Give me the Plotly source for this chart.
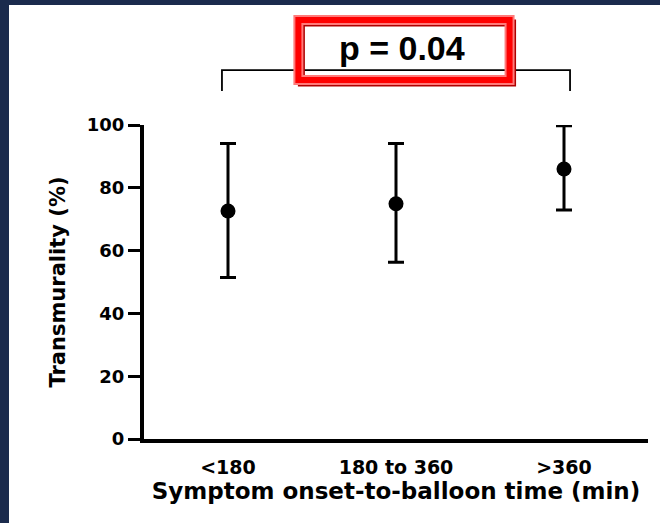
import plotly.graph_objects as go

# Transmurality by symptom onset-to-balloon time group (mean with spread)
categories = ["<180", "180 to 360", ">360"]
means = [72.6, 74.9, 86.0]
upper = [94.1, 94.1, 99.8]
lower = [51.4, 56.3, 72.9]
y_ticks = [0, 20, 40, 60, 80, 100]
p_label = "p = 0.04"

err_plus = [u - m for u, m in zip(upper, means)]
err_minus = [m - l for m, l in zip(means, lower)]

W, H = 660, 523
L, R, T, B = 144, 12, 125, 84
XR = [-0.5, 2.5]
YR = [0, 100]
FONT = "DejaVu Sans, Arial, sans-serif"
P_FONT = "Liberation Sans, Arial, sans-serif"
NAVY = "#1b2b4d"


def xd(v):
    return (v - XR[0]) / (XR[1] - XR[0])


def yd(v):
    return (v - YR[0]) / (YR[1] - YR[0])


def px_x(p):
    return (p - L) / (W - L - R)


def px_y(p):
    return (H - B - p) / (H - T - B)


fig = go.Figure()
fig.add_trace(go.Scatter(
    x=categories, y=means, mode="markers",
    marker=dict(color="black", size=15, symbol="circle"),
    error_y=dict(type="data", symmetric=False, array=err_plus, arrayminus=err_minus,
                 color="black", thickness=3, width=8),
    cliponaxis=False, showlegend=False,
))

shapes = []
# dark frame on the left and top edges
shapes.append(dict(type="rect", xref="paper", yref="paper",
                   x0=px_x(-2), x1=px_x(9), y0=px_y(-2), y1=px_y(H + 2),
                   fillcolor=NAVY, line=dict(width=0), layer="above"))
shapes.append(dict(type="rect", xref="paper", yref="paper",
                   x0=px_x(-2), x1=px_x(W + 2), y0=px_y(-2), y1=px_y(5),
                   fillcolor=NAVY, line=dict(width=0), layer="above"))

# comparison bracket between the first and last groups
bx0, bx1 = 0 - 0.036, 2 + 0.036
by_top, by_end = 117.5, 110.8
shapes.append(dict(
    type="path", xref="x domain", yref="y domain",
    path=(f"M {xd(bx0)} {yd(by_end)} L {xd(bx0)} {yd(by_top)} "
          f"L {xd(bx1)} {yd(by_top)} L {xd(bx1)} {yd(by_end)}"),
    line=dict(color="black", width=1.8),
))

# red frame around the p-value
fx0, fx1 = 0.419, 1.676
fy0, fy1 = 114.3, 133.4
off_x = 3 / (W - L - R)
off_y = 3 / (H - T - B)
shapes.append(dict(type="rect", xref="x domain", yref="y domain",
                   x0=xd(fx0) + off_x, x1=xd(fx1) + off_x,
                   y0=yd(fy0) - off_y, y1=yd(fy1) - off_y,
                   line=dict(color="#b00000", width=7)))
shapes.append(dict(type="rect", xref="x domain", yref="y domain",
                   x0=xd(fx0), x1=xd(fx1), y0=yd(fy0), y1=yd(fy1),
                   line=dict(color="#ff7a7a", width=10)))
shapes.append(dict(type="rect", xref="x domain", yref="y domain",
                   x0=xd(fx0), x1=xd(fx1), y0=yd(fy0), y1=yd(fy1),
                   line=dict(color="#ff0000", width=6)))

fig.update_layout(
    width=W, height=H,
    margin=dict(l=L, r=R, t=T, b=B, pad=0),
    paper_bgcolor="white", plot_bgcolor="white",
    font=dict(family=FONT, color="black"),
    shapes=shapes,
    annotations=[dict(
        x=xd(1.036), y=yd(124.5), xref="paper", yref="paper", text=f"<b>{p_label}</b>",
        showarrow=False, font=dict(size=34, color="black", family=P_FONT),
        xanchor="center", yanchor="middle",
    )],
    xaxis=dict(
        range=XR, showgrid=False, zeroline=False,
        showline=True, linecolor="black", linewidth=4,
        ticks="", ticklabelstandoff=8,
        tickfont=dict(size=19, family=FONT),
        tickvals=categories,
        ticktext=[f"<b>{c}</b>" for c in categories],
        title=dict(text="<b>Symptom onset-to-balloon time (min)</b>",
                   font=dict(size=23, family=FONT), standoff=6),
    ),
    yaxis=dict(
        range=YR, showgrid=False, zeroline=False,
        showline=True, linecolor="black", linewidth=4,
        ticks="outside", ticklen=12, tickwidth=3, tickcolor="black",
        tickvals=y_ticks, ticktext=[f"<b>{v}</b>" for v in y_ticks],
        tickfont=dict(size=18, family=FONT),
        title=dict(text="<b>Transmurality (%)</b>",
                   font=dict(size=21, family=FONT), standoff=16),
    ),
)

fig.write_html("out.html")
